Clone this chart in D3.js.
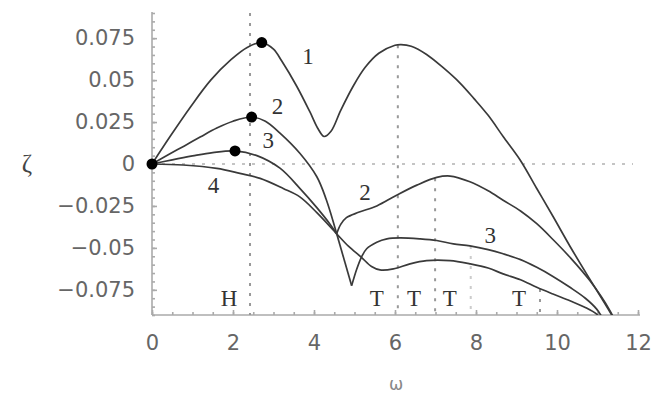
<!DOCTYPE html>
<html>
<head>
<meta charset="utf-8">
<script src="https://cdn.jsdelivr.net/npm/d3@7"></script>
<style>
  body { margin: 0; background: #fff; }
  svg { display: block; }
  .axis path, .axis line { stroke: #aaa; stroke-width: 1.6px; }
  .axis text { font-family: "DejaVu Sans", sans-serif; font-size: 21px; fill: #666; }
  .curve { fill: none; stroke: #3a3a3a; stroke-width: 1.7px; }
  .lbl { font-family: "Liberation Serif", serif; font-size: 23px; fill: #333; text-anchor: middle; }
</style>
</head>
<body>
<svg id="vis" width="664" height="413"></svg>
<script>
// tick values
var xTicks = [0, 2, 4, 6, 8, 10, 12];
var yTicks = [-0.075, -0.05, -0.025, 0, 0.025, 0.05, 0.075];

// curves as [omega, value]; pieces meet at cusps
var curve1 = [[[0, 0], [0.45, 0.0165], [0.95, 0.034], [1.45, 0.05], [1.95, 0.0622], [2.35, 0.0695], [2.71, 0.0724],
  [3.0, 0.0685], [3.2, 0.0615], [3.57, 0.0465], [3.9, 0.031], [4.1, 0.021], [4.25, 0.0164], [4.42, 0.0195],
  [4.66, 0.032], [4.97, 0.0465], [5.26, 0.0575], [5.6, 0.066], [6.0, 0.0708], [6.15, 0.0712], [6.4, 0.0702],
  [6.78, 0.0653], [7.19, 0.0574], [7.6, 0.0484], [7.95, 0.039], [8.3, 0.029], [8.67, 0.0164], [9.09, 0.0024],
  [9.5, -0.0146], [9.91, -0.0316], [10.32, -0.049], [10.73, -0.0655], [11.14, -0.0815], [11.45, -0.094]]];

var curve2 = [
  [[0, 0], [0.4, 0.0055], [0.8, 0.0108], [1.2, 0.0162], [1.6, 0.0214], [2.0, 0.0255], [2.46, 0.028], [2.8, 0.0255],
   [3.16, 0.0184], [3.65, 0.0064], [4.07, -0.0076], [4.3, -0.021], [4.56, -0.0416]],
  [[4.56, -0.0416], [4.66, -0.036], [4.8, -0.032], [5.1, -0.0288], [5.55, -0.025], [6.04, -0.0186], [6.54, -0.0126],
   [7.03, -0.008], [7.36, -0.0072], [7.85, -0.0106], [8.3, -0.016], [8.67, -0.0216], [9.1, -0.028], [9.5, -0.0356],
   [9.9, -0.045], [10.32, -0.0556], [10.81, -0.0695], [11.31, -0.0875], [11.42, -0.093]]];

var curve3 = [
  [[0, 0], [0.5, 0.0025], [1.0, 0.0048], [1.5, 0.0068], [2.05, 0.0078], [2.59, 0.005], [3.16, -0.0025],
   [3.65, -0.0145], [4.07, -0.026], [4.4, -0.036], [4.56, -0.0416]],
  [[4.56, -0.0416], [4.93, -0.0725]],
  [[4.93, -0.0725], [5.05, -0.063], [5.17, -0.0556], [5.3, -0.0505], [5.55, -0.0466], [5.8, -0.0446], [6.12, -0.044],
   [6.62, -0.0446], [7.03, -0.0456], [7.44, -0.0476], [7.85, -0.0488], [8.3, -0.051], [8.67, -0.0535], [9.1, -0.057],
   [9.5, -0.0616], [9.9, -0.067], [10.32, -0.0735], [10.7, -0.08], [10.98, -0.0865], [11.15, -0.093]]];

var curve4 = [[[0, 0], [0.77, -0.0006], [1.6, -0.0026], [2.17, -0.0056], [2.67, -0.0086], [3.24, -0.0146],
  [3.65, -0.0196], [4.07, -0.029], [4.56, -0.0416], [4.85, -0.049], [5.17, -0.0556], [5.42, -0.0611],
  [5.63, -0.0631], [5.96, -0.0625], [6.37, -0.0595], [6.78, -0.0576], [7.36, -0.0576], [7.85, -0.0595],
  [8.3, -0.062], [8.67, -0.0655], [9.1, -0.069], [9.5, -0.0735], [9.9, -0.0775], [10.32, -0.0815],
  [10.7, -0.0855], [10.98, -0.0895], [11.1, -0.093]]];

// maxima marked with dots
var peaks = [[0, 0], [2.71, 0.0724], [2.46, 0.028], [2.05, 0.0078]];

// guide lines: omega, top value, letter
var guides = [[2.42, 0.09, "H"], [6.07, 0.0708, "T"], [6.99, -0.0085, "T"], [7.87, -0.0488, "T"], [9.58, -0.0745, "T"]];
var guideShade = ["#999", "#999", "#999", "#ccc", "#999"];

// curve number labels: text, omega, value
var curveLabels = [["1", 3.85, 0.0645], ["2", 3.1, 0.0345], ["3", 2.87, 0.0145], ["4", 1.52, -0.0127],
  ["2", 5.26, -0.0168], ["3", 8.35, -0.0425]];

var svg = d3.select("#vis");
var x = d3.scaleLinear().domain([0, 12]).range([152, 638]);
var y = d3.scaleLinear().domain([-0.09, 0.09]).range([315, 13]);

svg.append("defs").append("clipPath").attr("id", "plot")
  .append("rect").attr("x", 152).attr("y", 13).attr("width", 488).attr("height", 302);

// minor ticks
svg.append("g").attr("class", "axis").attr("transform", "translate(0,315)")
  .call(d3.axisBottom(x).tickValues(d3.range(0, 12.01, 0.5)).tickSize(-3).tickSizeOuter(0).tickFormat(""))
  .select(".domain").remove();
svg.append("g").attr("class", "axis").attr("transform", "translate(152,0)")
  .call(d3.axisLeft(y).tickValues(d3.range(-90, 91, 5).map(function(d) { return d / 1000; }))
    .tickSize(-3).tickSizeOuter(0).tickFormat(""))
  .select(".domain").remove();

// major axes
svg.append("g").attr("class", "axis").attr("transform", "translate(0,315)")
  .call(d3.axisBottom(x).tickValues(xTicks).tickSize(-5).tickSizeOuter(0).tickPadding(20)
    .tickFormat(function(d) { return d; }))
  .select(".domain").attr("d", "M152,0H640");
svg.append("g").attr("class", "axis").attr("transform", "translate(152,0)")
  .call(d3.axisLeft(y).tickValues(yTicks).tickSize(-5).tickSizeOuter(0).tickPadding(17)
    .tickFormat(function(d) { return d === 0 ? "0" : (d < 0 ? "\u2212" : "") + String(Math.abs(d)); }))
  .select(".domain").attr("d", "M0,12V315");

// zero line
svg.append("line")
  .attr("x1", x(0)).attr("x2", 633).attr("y1", y(0)).attr("y2", y(0))
  .attr("stroke", "#c4c4c4").attr("stroke-width", 2).attr("stroke-dasharray", "3,7");

// guide lines and letters
svg.selectAll(".guide").data(guides).enter().append("line")
  .attr("class", "guide")
  .attr("x1", function(d) { return x(d[0]); }).attr("x2", function(d) { return x(d[0]); })
  .attr("y1", function(d) { return y(d[1]); }).attr("y2", 315)
  .attr("stroke", function(d, i) { return guideShade[i]; })
  .attr("stroke-width", 2).attr("stroke-dasharray", "3,7");

svg.selectAll(".glbl").data(guides).enter().append("text")
  .attr("class", "lbl glbl")
  .attr("x", function(d) { return x(d[0]) - 21; })
  .attr("y", 306)
  .text(function(d) { return d[2]; });

// curves
var line = d3.line()
  .x(function(d) { return x(d[0]); })
  .y(function(d) { return y(d[1]); })
  .curve(d3.curveCatmullRom.alpha(0.5));

var g = svg.append("g").attr("clip-path", "url(#plot)");
[curve1, curve2, curve3, curve4].forEach(function(c) {
  c.forEach(function(piece) {
    g.append("path").attr("class", "curve").attr("d", line(piece));
  });
});

svg.selectAll(".peak").data(peaks).enter().append("circle")
  .attr("cx", function(d) { return x(d[0]); })
  .attr("cy", function(d) { return y(d[1]); })
  .attr("r", 5.5).attr("fill", "#000");

svg.selectAll(".clbl").data(curveLabels).enter().append("text")
  .attr("class", "lbl clbl")
  .attr("x", function(d) { return x(d[1]); })
  .attr("y", function(d) { return y(d[2]); })
  .attr("dy", "0.35em")
  .text(function(d) { return d[0]; });

// axis titles
svg.append("text").attr("x", 396).attr("y", 390)
  .attr("text-anchor", "middle").attr("font-family", "DejaVu Sans").attr("font-size", 17).attr("fill", "#888")
  .text("ω");
svg.append("text").attr("x", 27).attr("y", 172)
  .attr("text-anchor", "middle").attr("font-family", "Liberation Serif").attr("font-size", 25).attr("fill", "#444")
  .text("ζ");
</script>
</body>
</html>
